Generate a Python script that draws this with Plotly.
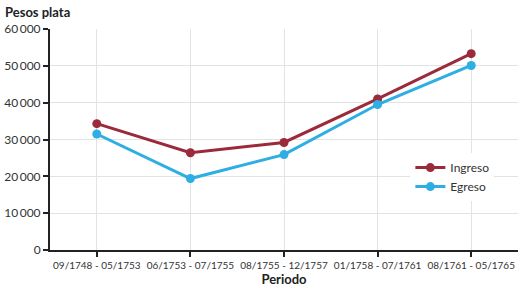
import plotly.graph_objects as go

periodos = ["09/1748 - 05/1753", "06/1753 - 07/1755", "08/1755 - 12/1757",
            "01/1758 - 07/1761", "08/1761 - 05/1765"]
ingreso = [34300, 26400, 29200, 41000, 53300]
egreso = [31500, 19400, 25900, 39500, 50100]
y_ticks = [0, 10000, 20000, 30000, 40000, 50000, 60000]
y_labels = ["0", "10\u2009000", "20\u2009000", "30\u2009000", "40\u2009000", "50\u2009000", "60\u2009000"]

FONT = "Lato"
fig = go.Figure()
fig.add_trace(go.Scatter(x=list(range(len(periodos))), y=ingreso, name="Ingreso",
                         mode="lines+markers", line=dict(color="#9b2a3a", width=3),
                         marker=dict(size=9, color="#9b2a3a")))
fig.add_trace(go.Scatter(x=list(range(len(periodos))), y=egreso, name="Egreso",
                         mode="lines+markers", line=dict(color="#2eaee3", width=3),
                         marker=dict(size=9, color="#2eaee3")))

fig.update_layout(
    width=521, height=293,
    margin=dict(l=50, r=3, t=29, b=43),
    paper_bgcolor="white", plot_bgcolor="white",
    font=dict(family=FONT, size=12, color="#222"),
    showlegend=True,
    legend=dict(x=0.77, y=0.33, xanchor="left", yanchor="middle",
                bgcolor="white", font=dict(size=12, color="#333"),
                itemwidth=30, tracegroupgap=2),
    xaxis=dict(range=[-0.5, 4.5], tickmode="array", tickvals=list(range(len(periodos))),
               ticktext=periodos, tickangle=0, automargin=False,
               showgrid=True, gridcolor="#e3e3e3", gridwidth=1,
               showline=True, linecolor="#222", linewidth=2, ticks="outside",
               ticklen=5, tickwidth=2, tickcolor="#222", zeroline=False,
               tickfont=dict(size=10, color="#333"),
               title=dict(text="<b>Periodo</b>", font=dict(size=13, color="#222"), standoff=3)),
    yaxis=dict(range=[0, 60000], tickmode="array", tickvals=y_ticks, ticktext=y_labels,
               automargin=False,
               showgrid=True, gridcolor="#e3e3e3", gridwidth=1,
               showline=True, linecolor="#222", linewidth=2, ticks="outside",
               ticklen=5, tickwidth=2, tickcolor="#222", zeroline=False,
               tickfont=dict(size=12, color="#333")),
    annotations=[dict(text="<b>Pesos plata</b>", x=0, y=1, xref="paper", yref="paper",
                      xanchor="left", yanchor="top", xshift=-47, yshift=27,
                      showarrow=False, font=dict(size=13, color="#222"))],
)
fig.write_html("out.html", config={"displayModeBar": False},
               post_script="document.body.style.margin='0';")
